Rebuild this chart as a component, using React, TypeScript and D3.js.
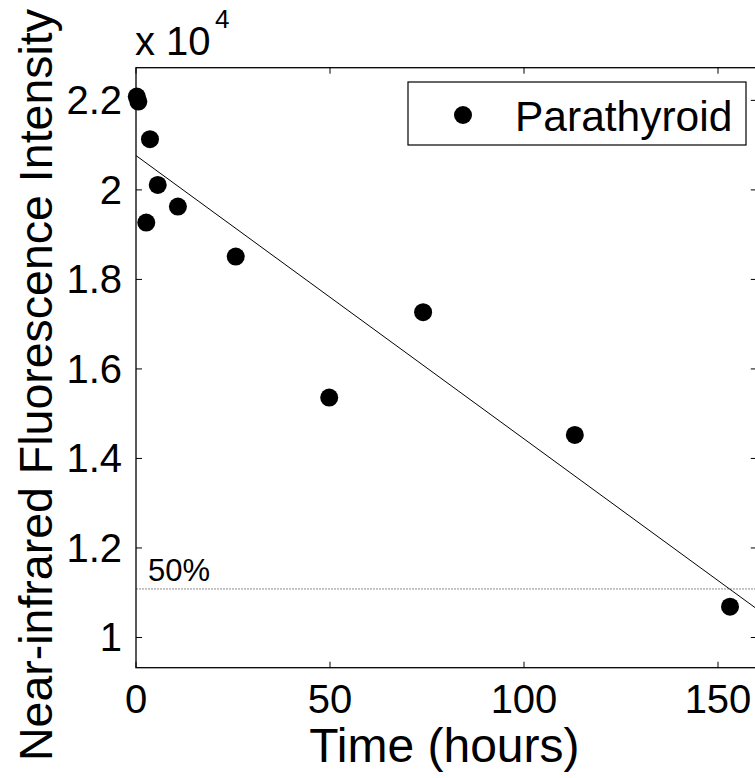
import React from "react";
import * as d3 from "d3";

// measured points (hours, raw intensity)
const times = [0.2, 0.6, 3.6, 5.6, 10.8, 2.65, 25.7, 49.8, 74.0, 113.1, 153.1];
const intensity = [22085, 21973, 21133, 20112, 19627, 19269, 18510, 15360, 17267, 14525, 10688];

// linear fit + 50% level
const fitIntercept = 20767;
const fitSlope = -63.3;
const halfLevel = 11084;

const xTicks = [0, 50, 100, 150];
const yTicks = [10000, 12000, 14000, 16000, 18000, 20000, 22000];
const yTickLabels = ["1", "1.2", "1.4", "1.6", "1.8", "2", "2.2"];

const seriesName = "Parathyroid";
const xTitle = "Time (hours)";
const yTitle = "Near-infrared Fluorescence Intensity";

const font = "'Liberation Sans', Arial, sans-serif";

export default function App() {
  const width = 755;
  const height = 778;
  const left = 136, right = 756.8, top = 67.7, bottom = 667.7;

  const x = d3.scaleLinear().domain([0, 160]).range([left, right]);
  const y = d3.scaleLinear().domain([9325, 22730]).range([bottom, top]);

  const line = d3.line<number>().x(d => x(d)).y(d => y(fitIntercept + fitSlope * d));
  const tk = 6;

  return (
    <svg width={width} height={height} style={{ position: "absolute", left: 0, top: 0, background: "#fff" }} fontFamily={font}>
      <rect x={0} y={0} width={width} height={height} fill="#fff" />

      {/* 50% line */}
      <line x1={left} x2={right} y1={y(halfLevel)} y2={y(halfLevel)} stroke="#8a8a8a" strokeWidth={1} strokeDasharray="2,1" />
      <text x={148} y={y(halfLevel) - 7.5} fontSize={31} fill="#000">50%</text>

      {/* fit line */}
      <path d={line([0, 160]) || ""} fill="none" stroke="#000" strokeWidth={1} />

      {/* points */}
      {times.map((t, i) => (
        <circle key={i} cx={x(t)} cy={y(intensity[i])} r={9} fill="#000" />
      ))}

      {/* axes box */}
      <rect x={left} y={top} width={right - left} height={bottom - top} fill="none" stroke="#000" strokeWidth={1.3} />

      {xTicks.map(v => (
        <g key={"x" + v}>
          <line x1={x(v)} x2={x(v)} y1={bottom} y2={bottom - tk} stroke="#000" />
          <line x1={x(v)} x2={x(v)} y1={top} y2={top + tk} stroke="#000" />
          <text x={x(v)} y={713} fontSize={40} textAnchor="middle">{v}</text>
        </g>
      ))}

      {yTicks.map((v, i) => (
        <g key={"y" + v}>
          <line x1={left} x2={left + tk} y1={y(v)} y2={y(v)} stroke="#000" />
          <line x1={right} x2={right - tk} y1={y(v)} y2={y(v)} stroke="#000" />
          <text x={122} y={y(v) + 14} fontSize={40} textAnchor="end">{yTickLabels[i]}</text>
        </g>
      ))}

      {/* exponent */}
      <text x={135} y={55} fontSize={40}>x 10</text>
      <text x={215} y={28} fontSize={26}>4</text>

      {/* titles */}
      <text x={(left + right) / 2 - 2} y={762} fontSize={48} textAnchor="middle">{xTitle}</text>
      <text transform={`translate(52, 385) rotate(-90)`} fontSize={46.5} textAnchor="middle">{yTitle}</text>

      {/* legend */}
      <rect x={408} y={82} width={338} height={63} fill="#fff" stroke="#000" strokeWidth={1.2} />
      <circle cx={463} cy={115} r={9} fill="#000" />
      <text x={515} y={131} fontSize={42.5}>{seriesName}</text>
    </svg>
  );
}
